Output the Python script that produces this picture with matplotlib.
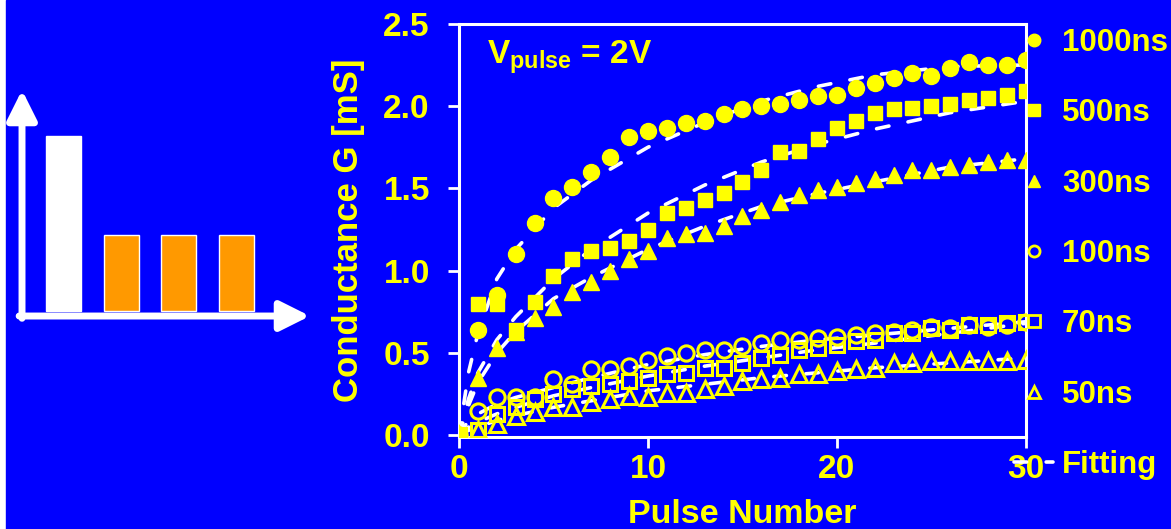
import matplotlib
matplotlib.use("Agg")
from matplotlib import pyplot as plt
from matplotlib.lines import Line2D
from matplotlib.patches import Rectangle

plt.rcParams['font.family'] = ['Liberation Sans', 'DejaVu Sans']
plt.rcParams['font.weight'] = 'bold'
plt.rcParams['mathtext.fontset'] = 'custom'
plt.rcParams['mathtext.bf'] = 'Liberation Sans:bold'
plt.rcParams['mathtext.rm'] = 'Liberation Sans:bold'

BLUE = '#0000FF'
YELLOW = '#FFFF00'
ORANGE = '#FF9900'

# pulse number
pulses = list(range(31))

# conductance [mS] per pulse width
g_1000 = [0, 0.64, 0.85, 1.10, 1.29, 1.44, 1.51, 1.60, 1.69, 1.81, 1.85, 1.87, 1.90, 1.91, 1.95, 1.98,
          2.00, 2.01, 2.04, 2.06, 2.07, 2.11, 2.14, 2.17, 2.20, 2.18, 2.23, 2.27, 2.25, 2.25, 2.28]
g_500 = [0, 0.80, 0.80, 0.64, 0.81, 0.97, 1.07, 1.12, 1.14, 1.18, 1.25, 1.35, 1.38, 1.43, 1.47, 1.54,
         1.61, 1.72, 1.73, 1.80, 1.87, 1.91, 1.96, 1.98, 1.99, 2.00, 2.01, 2.04, 2.05, 2.07, 2.09]
g_300 = [0, 0.35, 0.53, 0.63, 0.71, 0.78, 0.87, 0.93, 1.00, 1.07, 1.12, 1.20, 1.22, 1.23, 1.27, 1.33,
         1.37, 1.42, 1.46, 1.49, 1.51, 1.53, 1.56, 1.58, 1.61, 1.61, 1.63, 1.64, 1.66, 1.67, 1.67]
g_100 = [0, 0.15, 0.23, 0.23, 0.23, 0.34, 0.31, 0.40, 0.40, 0.42, 0.46, 0.48, 0.50, 0.52, 0.52, 0.54,
         0.56, 0.58, 0.58, 0.59, 0.60, 0.61, 0.62, 0.63, 0.64, 0.66, 0.65, 0.67, 0.66, 0.67, 0.69]
g_70 = [0, 0.03, 0.13, 0.17, 0.22, 0.25, 0.28, 0.30, 0.31, 0.33, 0.35, 0.37, 0.38, 0.41, 0.41, 0.44,
        0.47, 0.49, 0.52, 0.53, 0.55, 0.57, 0.58, 0.62, 0.62, 0.65, 0.64, 0.67, 0.67, 0.68, 0.69]
g_50 = [0, 0.03, 0.07, 0.12, 0.14, 0.17, 0.17, 0.20, 0.22, 0.24, 0.23, 0.26, 0.26, 0.28, 0.30, 0.33,
        0.34, 0.35, 0.37, 0.37, 0.39, 0.40, 0.41, 0.44, 0.44, 0.45, 0.45, 0.45, 0.45, 0.45, 0.46]

# fitting curves
fit_n = [0, 0.5, 1, 2, 3, 5, 7, 10, 13, 16, 19, 22, 26, 30]
fit_1000 = [0.0, 0.38, 0.62, 0.95, 1.13, 1.38, 1.55, 1.75, 1.90, 2.03, 2.12, 2.19, 2.24, 2.25]
fit_500 = [0.0, 0.22, 0.38, 0.58, 0.72, 0.95, 1.13, 1.35, 1.52, 1.66, 1.77, 1.86, 1.96, 2.03]
fit_300 = [0.0, 0.18, 0.32, 0.50, 0.63, 0.83, 0.96, 1.13, 1.27, 1.39, 1.47, 1.54, 1.63, 1.68]
fit_100 = [0.0, 0.09, 0.13, 0.19, 0.23, 0.29, 0.35, 0.43, 0.49, 0.54, 0.58, 0.61, 0.65, 0.69]
fit_70 = [0.0, 0.05, 0.08, 0.13, 0.17, 0.24, 0.29, 0.36, 0.42, 0.47, 0.52, 0.56, 0.62, 0.68]
fit_50 = [0.0, 0.03, 0.05, 0.09, 0.12, 0.17, 0.21, 0.27, 0.31, 0.35, 0.38, 0.41, 0.44, 0.47]

# schematic pulse train (relative amplitudes)
sketch_pos = [0, 1, 2, 3]
sketch_amp = [2.3, 1.0, 1.0, 1.0]

fit_style = dict(color='white', lw=2.6, ls=(0, (3.5, 5.4)), dash_capstyle='round')

fig = plt.figure(figsize=(11.71, 5.29), dpi=100, facecolor='white')
# blue slide background, thin white strip on the far left
fig.add_artist(Rectangle((0.005, 0), 0.995, 1, transform=fig.transFigure, color=BLUE, zorder=-10))

# ---- main plot
ax = fig.add_axes([0.392, 0.174, 0.484, 0.781])
ax.set_facecolor(BLUE)

for fy in [fit_1000, fit_500, fit_300, fit_100, fit_70, fit_50]:
    ax.plot(fit_n, fy, zorder=2, **fit_style)

ax.plot(pulses, g_1000, 'o', color=YELLOW, ms=11.5, mec=YELLOW, zorder=3)
ax.plot(pulses, g_300, '^', color=YELLOW, ms=12, mec=YELLOW, zorder=3)
ax.plot(pulses, g_100, 'o', mfc='none', mec=YELLOW, mew=2.2, ms=11, zorder=3)
ax.plot(pulses, g_70, 's', mfc='none', mec=YELLOW, mew=2.2, ms=10, zorder=3)
ax.plot(pulses, g_50, '^', mfc='none', mec=YELLOW, mew=2.2, ms=11, zorder=3)
ax.plot(pulses, g_500, 's', color=YELLOW, ms=10.5, mec=YELLOW, zorder=4)

ax.set_xlim(0, 30)
ax.set_ylim(-0.01, 2.5)
ax.set_xticks([0, 10, 20, 30])
ax.set_yticks([0, 0.5, 1.0, 1.5, 2.0, 2.5])
ax.set_yticklabels(['0.0', '0.5', '1.0', '1.5', '2.0', '2.5'])
ax.tick_params(colors='white', labelcolor=YELLOW, labelsize=24, length=8, width=2, direction='out')
ax.tick_params(axis='y', pad=13)
ax.tick_params(axis='x', pad=4)
for s in ax.spines.values():
    s.set_color('white')
    s.set_linewidth(2.2)
for lab in ax.get_xticklabels() + ax.get_yticklabels():
    lab.set_fontweight('bold')

ax.set_xlabel('Pulse Number', color=YELLOW, fontsize=24.5, fontweight='bold', labelpad=10)
ax.set_ylabel('Conductance G [mS]', color=YELLOW, fontsize=25, fontweight='bold', labelpad=13)

ax.text(0.05, 0.965, r'$\mathbf{V_{pulse}}$ = 2V', transform=ax.transAxes, color=YELLOW,
        fontsize=24, fontweight='bold', va='top', ha='left')

handles = [
    Line2D([], [], marker='o', ls='none', color=YELLOW, ms=9),
    Line2D([], [], marker='s', ls='none', color=YELLOW, ms=8),
    Line2D([], [], marker='^', ls='none', color=YELLOW, ms=9),
    Line2D([], [], marker='o', ls='none', mfc='none', mec=YELLOW, mew=2, ms=8),
    Line2D([], [], marker='s', ls='none', mfc='none', mec=YELLOW, mew=2, ms=8),
    Line2D([], [], marker='^', ls='none', mfc='none', mec=YELLOW, mew=2, ms=8),
    Line2D([], [], **fit_style),
]
labels = ['1000ns', '500ns', '300ns', '100ns', '70ns', '50ns', 'Fitting']
leg = fig.legend(handles, labels, loc='upper left', bbox_to_anchor=(0.866, 0.947),
                 frameon=False, fontsize=22.5, labelspacing=1.29, handlelength=1.25,
                 handletextpad=0.28, borderpad=0, borderaxespad=0)
for t in leg.get_texts():
    t.set_color(YELLOW)
    t.set_fontweight('bold')

# ---- schematic inset
ax_in = fig.add_axes([0.0188, 0.4026, 0.2459, 0.4272])
ax_in.set_axis_off()
ax_in.set_xlim(-0.72, 4.28)
ax_in.set_ylim(0, 2.97)
colors = ['white', ORANGE, ORANGE, ORANGE]
ax_in.bar(sketch_pos, sketch_amp, width=0.61, color=colors, edgecolor='white', lw=1, bottom=0.07)
arrow = dict(arrowstyle='-|>,head_length=0.6,head_width=0.3', lw=5, color='white',
             mutation_scale=30, shrinkA=0, shrinkB=0)
ax_in.annotate('', xy=(0, 1.0), xytext=(0, -0.01), xycoords='axes fraction', arrowprops=arrow)
ax_in.annotate('', xy=(1.0, 0), xytext=(-0.01, 0), xycoords='axes fraction', arrowprops=arrow)

fig.savefig('out.png', dpi=100, facecolor='white')
